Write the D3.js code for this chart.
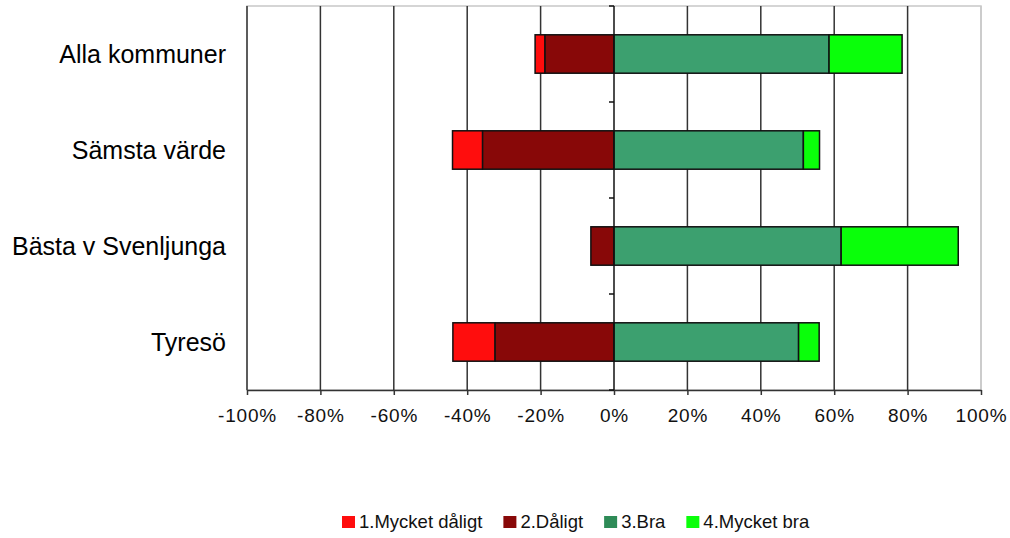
<!DOCTYPE html>
<html><head><meta charset="utf-8">
<script src="https://cdn.jsdelivr.net/npm/d3@7"></script>
<style>body{margin:0;background:#fff;} svg{display:block;font-family:"Liberation Sans",Arial,sans-serif;}</style>
</head><body>
<svg id="c" width="1010" height="538"></svg>
<script>
const categories = ["Alla kommuner","Sämsta värde","Bästa v Svenljunga","Tyresö"];
const seriesNames = ["1.Mycket dåligt","2.Dåligt","3.Bra","4.Mycket bra"];
const myketDaligt = [2.7, 8.2, 0, 11.5];
const daligt = [18.8, 35.8, 6.3, 32.4];
const bra = [58.6, 51.6, 61.9, 50.3];
const mycketBra = [19.9, 4.4, 31.9, 5.6];
const tickValues = [-100,-80,-60,-40,-20,0,20,40,60,80,100];
const colors = ["#ff0d0d","#880808","#3ca06f","#0aff0a"];

const svg = d3.select("#c");
const x = d3.scaleLinear().domain([-100,100]).range([247,981]);
const y = d3.scaleBand().domain(categories).range([6,390]).paddingInner(0.6).paddingOuter(0.3);

// plot frame
svg.append("rect").attr("x",247).attr("y",6).attr("width",734).attr("height",384)
  .attr("fill","#fff").attr("stroke","#c8c8c8").attr("stroke-width",1.5);

// gridlines
svg.append("g").selectAll("line").data(tickValues.filter(v=>v!==0 && v!==100)).join("line")
  .attr("x1",d=>x(d)).attr("x2",d=>x(d)).attr("y1",6).attr("y2",390)
  .attr("stroke","#333").attr("stroke-width",1.5);
svg.append("line").attr("x1",x(100)).attr("x2",x(100)).attr("y1",6).attr("y2",390)
  .attr("stroke","#c8c8c8").attr("stroke-width",1.5);

// bars
const rows = categories.map((c,i)=>{
  const segs = [];
  let left = -(myketDaligt[i]+daligt[i]);
  segs.push({c, s:0, x0:left, x1:left+myketDaligt[i]});
  segs.push({c, s:1, x0:-daligt[i], x1:0});
  segs.push({c, s:2, x0:0, x1:bra[i]});
  segs.push({c, s:3, x0:bra[i], x1:bra[i]+mycketBra[i]});
  return segs;
}).flat().filter(d=>d.x1-d.x0>0);

svg.append("g").selectAll("rect").data(rows).join("rect")
  .attr("x",d=>x(d.x0)).attr("width",d=>x(d.x1)-x(d.x0))
  .attr("y",d=>y(d.c)).attr("height",y.bandwidth())
  .attr("fill",d=>colors[d.s]).attr("stroke","#111").attr("stroke-width",1.5);

// x axis
const xAxis = d3.axisBottom(x).tickValues(tickValues).tickFormat(d=>d+"%").tickSize(5).tickSizeOuter(0);
const gx = svg.append("g").attr("transform","translate(0,390)").call(xAxis);
gx.select(".domain").attr("stroke","#333").attr("stroke-width",1.5);
gx.selectAll(".tick line").attr("stroke","#333").attr("stroke-width",1.5);
gx.selectAll("text").attr("font-size",19).attr("fill","#111").attr("y",25).attr("dy","0.35em")
  .attr("letter-spacing","0.8px")
  .attr("font-family","Liberation Sans, Arial, sans-serif");

// vertical axis at 0
const yb = d3.scaleLinear().domain([0,4]).range([6,390]);
svg.append("line").attr("x1",x(0)).attr("x2",x(0)).attr("y1",6).attr("y2",390).attr("stroke","#111").attr("stroke-width",1.5);
svg.append("g").selectAll("line").data([0,1,2,3,4]).join("line")
  .attr("x1",x(0)-5).attr("x2",x(0)).attr("y1",d=>yb(d)).attr("y2",d=>yb(d))
  .attr("stroke","#111").attr("stroke-width",1.5);

// category labels
svg.append("g").selectAll("text").data(categories).join("text")
  .attr("x",226).attr("y",d=>y(d)+y.bandwidth()/2).attr("dy","0.35em")
  .attr("text-anchor","end").attr("font-size",25).attr("fill","#000").text(d=>d);

// legend
const lg = svg.append("g");
let lx = 342;
seriesNames.forEach((n,i)=>{
  lg.append("rect").attr("x",lx).attr("y",516).attr("width",13).attr("height",12).attr("fill",i===2?"#2e8b57":colors[i]);
  const t = lg.append("text").attr("x",lx+17).attr("y",522).attr("dy","0.35em").attr("font-size",18.5).attr("fill","#111").text(n);
  lx += 17 + t.node().getComputedTextLength() + 21;
});
</script>
</body></html>
